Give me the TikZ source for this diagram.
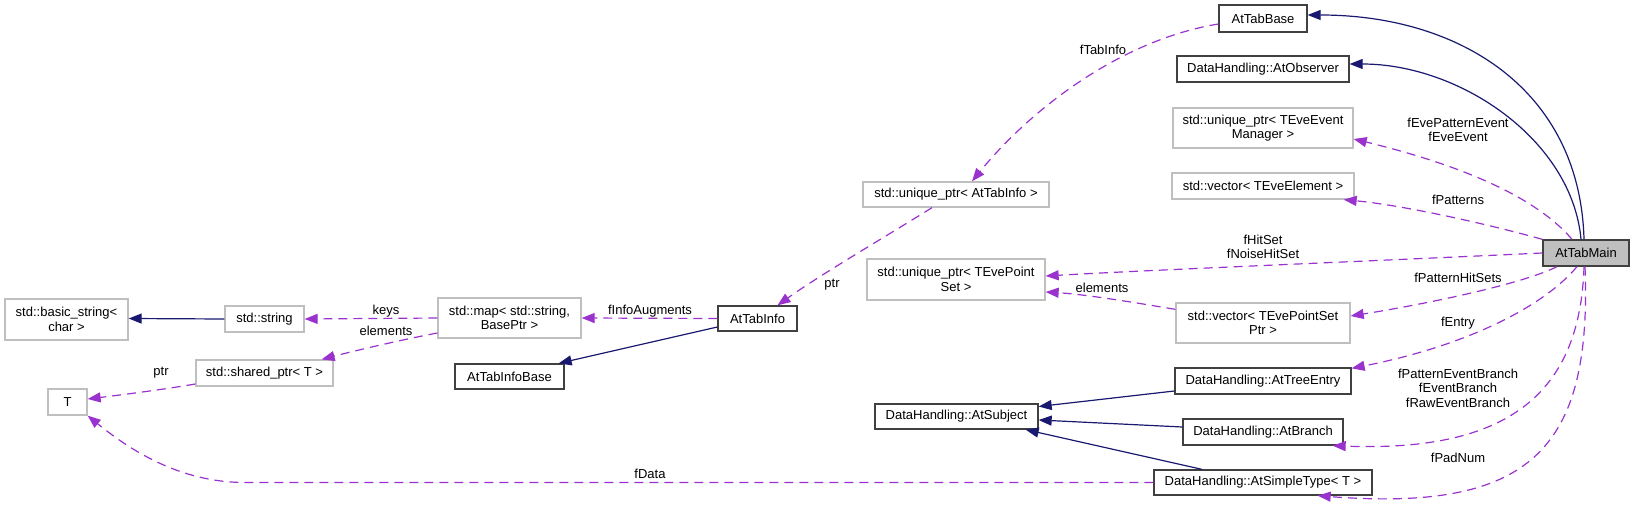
\documentclass[tikz,border=0pt]{standalone}
\usepackage{fontspec}
\setmainfont{Liberation Sans}
\usetikzlibrary{arrows.meta}
\definecolor{edgepurple}{HTML}{9A32CD}
\definecolor{edgenavy}{HTML}{191970}
\definecolor{boxgray}{HTML}{BFBFBF}
\definecolor{boxdark}{HTML}{404040}
\begin{document}
\begin{tikzpicture}[x=1pt,y=-1pt,
  txt/.style={font=\fontsize{13}{14.5}\selectfont},
  lbl/.style={txt, align=center, inner sep=0pt},
  cls/.style={txt, draw=boxdark, line width=1.3pt, rectangle, inner sep=0pt, align=center},
  ext/.style={cls, draw=boxgray},
  inh/.style={draw=edgenavy, line width=1.2pt, -{Triangle[length=13pt,width=10pt]}},
  use/.style={draw=edgepurple, line width=1.2pt, dash pattern=on 9pt off 6pt, -{Triangle[length=13pt,width=10pt]}},
]
\useasboundingbox (0,0) rectangle (1635,508);

% nodes
\node[cls, fill=boxgray, minimum width=86pt, minimum height=26pt] (main) at (1586,253) {AtTabMain};
\node[cls, minimum width=88pt, minimum height=27pt] (tabbase) at (1263,18.5) {AtTabBase};
\node[cls, minimum width=172pt, minimum height=26pt] (observer) at (1263,69) {DataHandling::AtObserver};
\node[ext, minimum width=180pt, minimum height=40pt] (evemgr) at (1263,128) {std::unique\_ptr< TEveEvent\\ Manager >};
\node[ext, minimum width=182pt, minimum height=26pt] (eveelem) at (1263,186) {std::vector< TEveElement >};
\node[ext, minimum width=174pt, minimum height=40pt] (psptr) at (1263,323) {std::vector< TEvePointSet\\ Ptr >};
\node[cls, minimum width=176pt, minimum height=26pt] (treeentry) at (1263,381) {DataHandling::AtTreeEntry};
\node[cls, minimum width=160pt, minimum height=26pt] (branch) at (1263,432) {DataHandling::AtBranch};
\node[cls, minimum width=218pt, minimum height=25pt] (simple) at (1263,482.5) {DataHandling::AtSimpleType< T >};
\node[cls, minimum width=163pt, minimum height=25pt] (subject) at (956.5,416.5) {DataHandling::AtSubject};
\node[ext, minimum width=186pt, minimum height=25pt] (uptabinfo) at (956,194.5) {std::unique\_ptr< AtTabInfo >};
\node[ext, minimum width=178pt, minimum height=41pt] (upps) at (956,279.5) {std::unique\_ptr< TEvePoint\\ Set >};
\node[cls, minimum width=79pt, minimum height=25pt] (tabinfo) at (757.5,318.5) {AtTabInfo};
\node[cls, minimum width=109pt, minimum height=25pt] (tabinfobase) at (509.5,376.5) {AtTabInfoBase};
\node[ext, minimum width=143pt, minimum height=40pt] (map) at (509.5,318) {std::map< std::string,\\ BasePtr >};
\node[ext, minimum width=79pt, minimum height=26pt] (string) at (264.5,319) {std::string};
\node[ext, minimum width=123pt, minimum height=41pt] (basic) at (66.5,319.5) {std::basic\_string<\\ char >};
\node[ext, minimum width=137pt, minimum height=26pt] (shared) at (264.5,373) {std::shared\_ptr< T >};
\node[ext, minimum width=39pt, minimum height=26pt] (T) at (67.5,402) {T};

% inheritance edges
\draw[inh] ([xshift=-2pt]main.north) .. controls (1580,90) and (1460,15) .. ([yshift=3.5pt]tabbase.east);
\draw[inh] ([xshift=-5pt]main.north) .. controls (1572,140) and (1460,64) .. ([yshift=5pt]observer.east);
\draw[inh] ([yshift=-8.5pt]tabinfo.west) -- ([xshift=-6pt]tabinfobase.north east);
\draw[inh] (string.west) -- ([yshift=1pt]basic.east);
\draw[inh] ([yshift=-10pt]treeentry.west) -- ([yshift=10pt]subject.east);
\draw[inh] ([yshift=5pt]branch.west) -- ([yshift=-3.5pt]subject.east);
\draw[inh] ([xshift=-61pt]simple.north) -- ([xshift=-13pt]subject.south east);

% usage edges
\draw[use] ([xshift=-14pt]main.north) .. controls (1530,190) and (1440,160) .. ([yshift=-11pt]evemgr.east);
\node[lbl] (lEve) at (1458,130) {fEvePatternEvent\\ fEveEvent};
\draw[use] (main.north west) .. controls (1480,222) and (1400,205) .. ([xshift=-11pt]eveelem.south east);
\node[lbl] (lPat) at (1458,200) {fPatterns};
\draw[use] (main.west) .. controls (1350,262) and (1150,270) .. ([yshift=3.5pt]upps.east);
\node[lbl] (lHit) at (1263,247) {fHitSet\\ fNoiseHitSet};
\draw[use] ([xshift=-29pt]main.south) .. controls (1520,285) and (1420,305) .. ([yshift=7pt]psptr.east);
\node[lbl] (lPHS) at (1458,278) {fPatternHitSets};
\draw[use] ([xshift=-9pt]main.south) .. controls (1545,305) and (1470,345) .. ([yshift=-1pt]treeentry.north east);
\node[lbl] (lEnt) at (1458,323) {fEntry};
\draw[use] ([xshift=-2pt]main.south) .. controls (1580,400) and (1500,452) .. ([xshift=-11pt]branch.south east);
\node[lbl] (lBr) at (1458,388) {fPatternEventBranch\\ fEventBranch\\ fRawEventBranch};
\draw[use] ([xshift=-1pt]main.south) .. controls (1592,450) and (1530,512) .. ([xshift=-55pt]simple.south east);
\node[lbl] (lPad) at (1458,458) {fPadNum};

\draw[use] ([yshift=-5.5pt]tabbase.west) .. controls (1120,40) and (1030,110) .. ([xshift=16pt]uptabinfo.north);
\node[lbl] (lTab) at (1103,50) {fTabInfo};
\draw[use] ([xshift=-24pt]uptabinfo.south) .. controls (880,240) and (820,275) .. ([xshift=20pt]tabinfo.north);
\node[lbl] (lPtr1) at (832,285) {ptr};
\draw[use] (tabinfo.west) -- (map.east);
\node[lbl] (lAug) at (650,311) {fInfoAugments};
\draw[use] ([yshift=-7pt]psptr.north west) .. controls (1120,300) and (1080,294) .. ([yshift=-12.5pt]upps.east);
\node[lbl] (lEl1) at (1102,288) {elements};
\draw[use] (map.west) -- (string.east);
\node[lbl] (lKeys) at (386,311) {keys};
\draw[use] ([yshift=-15pt]map.west) .. controls (400,340) and (350,352) .. ([xshift=-12pt]shared.north east);
\node[lbl] (lEl2) at (386,331) {elements};
\draw[use] ([yshift=-11pt]shared.west) .. controls (160,390) and (120,395) .. ([yshift=3pt]T.east);
\node[lbl] (lPtr2) at (161,373) {ptr};
\draw[use] (simple.west) -- (245,482.5) .. controls (180,482.5) and (130,450) .. (T.south east);
\node[lbl] (lData) at (650,474) {fData};
\end{tikzpicture}
\end{document}
